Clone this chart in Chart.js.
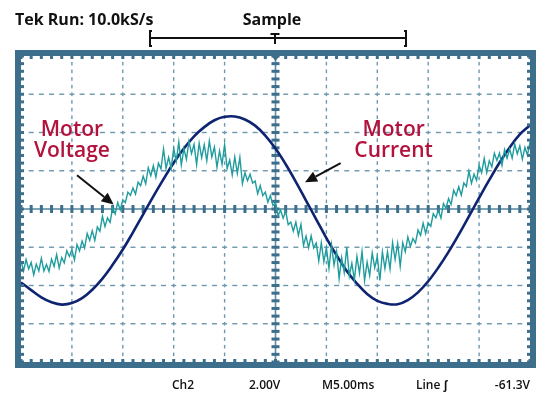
<!DOCTYPE html>
<html>
<head>
<meta charset="utf-8">
<script src="https://cdn.jsdelivr.net/npm/chart.js@4/dist/chart.umd.min.js"></script>
<style>
  html, body { margin: 0; padding: 0; background: #ffffff; }
  canvas { display: block; }
</style>
</head>
<body>
<canvas id="scope" width="536" height="398"></canvas>
<script>
// Screen graticule: 10 x 8 divisions, 5 ms per horizontal division
const timeDivs = 10;
const voltDivs = 8;
const msPerDiv = 5;

// Motor current trace (divisions), one sample per ms
const currentStepMs = 1;
const motorCurrent = [
  -1.92, -2.12, -2.31, -2.44, -2.50, -2.46, -2.33, -2.11, -1.82, -1.46,
  -1.06, -0.61, -0.14, 0.33, 0.78, 1.21, 1.58, 1.90, 2.14, 2.32,
  2.41, 2.42, 2.34, 2.18, 1.92, 1.58, 1.17, 0.71, 0.22, -0.27,
  -0.76, -1.21, -1.62, -1.95, -2.22, -2.40, -2.48, -2.49, -2.38, -2.18,
  -1.89, -1.53, -1.12, -0.67, -0.19, 0.29, 0.76, 1.21, 1.61, 1.95,
  2.19
];

// Motor voltage trace (divisions), one sample per 0.25 ms
const voltageStepMs = 0.25;
const motorVoltage = [
  -1.36, -1.62, -1.32, -1.57, -1.40, -1.72, -1.44, -1.62, -1.29, -1.62,
  -1.45, -1.63, -1.31, -1.50, -1.19, -1.54, -1.27, -1.41, -1.09, -1.24,
  -1.06, -1.33, -0.93, -1.10, -0.84, -1.02, -0.64, -0.82, -0.57, -0.82,
  -0.47, -0.58, -0.19, -0.46, -0.23, -0.35, 0.02, -0.13, 0.17, -0.02,
  0.24, 0.17, 0.44, 0.36, 0.55, 0.39, 0.70, 0.61, 0.86, 0.66,
  1.08, 0.87, 1.13, 0.83, 1.20, 1.05, 1.57, 1.06, 1.35, 1.06,
  1.58, 1.25, 1.75, 1.15, 1.58, 1.30, 1.77, 1.45, 1.69, 1.16,
  1.72, 1.34, 1.68, 1.26, 1.78, 1.36, 1.62, 1.09, 1.52, 1.17,
  1.68, 1.06, 1.28, 0.89, 1.36, 0.93, 1.35, 0.66, 0.95, 0.74,
  0.91, 0.68, 0.73, 0.40, 0.61, 0.35, 0.44, 0.18, 0.35, 0.09,
  0.16, -0.17, -0.03, -0.24, -0.06, -0.41, -0.34, -0.58, -0.34, -0.69,
  -0.40, -0.95, -0.71, -1.01, -0.70, -1.02, -0.89, -1.36, -0.88, -1.38,
  -1.01, -1.55, -0.93, -1.47, -1.11, -1.82, -1.27, -1.66, -1.00, -1.75,
  -1.42, -1.85, -1.24, -1.68, -1.11, -1.87, -1.39, -1.74, -1.15, -1.54,
  -1.24, -1.87, -1.12, -1.56, -1.12, -1.57, -0.88, -1.32, -0.90, -1.50,
  -0.88, -1.12, -0.73, -0.98, -0.77, -0.89, -0.55, -0.69, -0.37, -0.64,
  -0.36, -0.45, -0.12, -0.23, -0.03, -0.24, 0.14, 0.02, 0.27, 0.12,
  0.49, 0.35, 0.58, 0.36, 0.68, 0.59, 0.99, 0.67, 0.91, 0.75,
  1.14, 0.95, 1.32, 0.95, 1.26, 1.10, 1.46, 1.27, 1.46, 1.14,
  1.55, 1.33, 1.57, 1.33, 1.70, 1.44, 1.65, 1.30, 1.61, 1.41,
  1.75
];

// Header / readout texts
const headerLeft = 'Tek Run: 10.0kS/s';
const headerMode = 'Sample';
const readoutTexts = ['Ch2', '2.00V', 'M5.00ms', 'Line \u0283', '-61.3V'];
const readoutX = [172, 249, 322, 416, 530];

// Callouts: label lines, label anchor (ms, div), arrow tail and head (ms, div)
const voltageLabel = ['Motor', 'Voltage'];
const voltageLabelAt = [5.0, 1.92];
const voltageArrow = [[5.5, 0.88], [9.1, 0.12]];
const currentLabel = ['Motor', 'Current'];
const currentLabelAt = [36.6, 1.92];
const currentArrow = [[31.4, 1.20], [27.9, 0.70]];

const frameColor = '#3d6f8c';
const gridColor = '#6d98ae';
const axisColor = '#5f8ca5';
const labelRed = '#b3123d';
const font = '"Open Sans", "Liberation Sans", sans-serif';

const halfX = timeDivs * msPerDiv / 2;

const scopeGraticule = {
  id: 'scopeGraticule',
  beforeDatasetsDraw(chart) {
    const { ctx, chartArea: a, scales: { x, y } } = chart;
    ctx.save();
    // dashed major lines
    ctx.fillStyle = gridColor;
    for (let i = 1; i < timeDivs; i++) {
      if (i === timeDivs / 2) continue;
      const px = x.getPixelForValue(i * msPerDiv);
      for (let j = 0; j <= voltDivs * 5; j++) {
        const py = y.getPixelForValue(-voltDivs / 2 + j * 0.2);
        ctx.fillRect(px - 0.7, py - 1.8, 1.4, 3.6);
      }
    }
    for (let j = 1; j < voltDivs; j++) {
      if (j === voltDivs / 2) continue;
      const py = y.getPixelForValue(-voltDivs / 2 + j);
      for (let i = 0; i <= timeDivs * 5; i++) {
        const px = x.getPixelForValue(i * msPerDiv / 5);
        ctx.fillRect(px - 2.5, py - 0.7, 5, 1.4);
      }
    }
    // centre cross lines
    const cx = x.getPixelForValue(halfX);
    const cy = y.getPixelForValue(0);
    ctx.fillStyle = axisColor;
    ctx.fillRect(a.left, cy - 0.8, a.right - a.left, 1.6);
    ctx.fillRect(cx - 0.8, a.top, 1.6, a.bottom - a.top);
    ctx.fillStyle = frameColor;
    for (let i = 0; i <= timeDivs * 5; i++) {
      const px = x.getPixelForValue(i * msPerDiv / 5);
      ctx.fillRect(px - 1.5, cy - 4, 3, 8);
    }
    for (let j = 0; j <= voltDivs * 5; j++) {
      const py = y.getPixelForValue(-voltDivs / 2 + j * 0.2);
      ctx.fillRect(cx - 4, py - 1.5, 8, 3);
    }
    ctx.restore();
  },
  afterDatasetsDraw(chart) {
    const { ctx, chartArea: a, scales: { x, y } } = chart;
    ctx.save();
    // thick outer bezel
    ctx.fillStyle = frameColor;
    const t = 6;
    ctx.fillRect(a.left - t, a.top - t, a.right - a.left + 2 * t, t);
    ctx.fillRect(a.left - t, a.bottom, a.right - a.left + 2 * t, t);
    ctx.fillRect(a.left - t, a.top - t, t, a.bottom - a.top + 2 * t);
    ctx.fillRect(a.right, a.top - t, t, a.bottom - a.top + 2 * t);
    // minor ticks along the bezel
    for (let i = 0; i <= timeDivs * 5; i++) {
      const px = x.getPixelForValue(i * msPerDiv / 5);
      ctx.fillRect(px - 1.5, a.top, 3, 3);
      ctx.fillRect(px - 1.5, a.bottom - 3, 3, 3);
    }
    for (let j = 0; j <= voltDivs * 5; j++) {
      const py = y.getPixelForValue(-voltDivs / 2 + j * 0.2);
      ctx.fillRect(a.left, py - 1.5, 3, 3);
      ctx.fillRect(a.right - 3, py - 1.5, 3, 3);
    }
    // trigger position marker
    const cx = x.getPixelForValue(halfX);
    ctx.beginPath();
    ctx.moveTo(cx - 4, a.top);
    ctx.lineTo(cx + 4, a.top);
    ctx.lineTo(cx, a.top + 5);
    ctx.closePath();
    ctx.fill();

    // callout labels
    ctx.fillStyle = labelRed;
    ctx.font = '600 21px ' + font;
    ctx.textAlign = 'center';
    ctx.textBaseline = 'alphabetic';
    const drawLabel = (lines, at) => {
      const px = x.getPixelForValue(at[0]);
      const py = y.getPixelForValue(at[1]);
      lines.forEach((s, k) => ctx.fillText(s, px, py + k * 21));
    };
    drawLabel(voltageLabel, voltageLabelAt);
    drawLabel(currentLabel, currentLabelAt);

    // callout arrows
    const drawArrow = (seg) => {
      const x0 = x.getPixelForValue(seg[0][0]), y0 = y.getPixelForValue(seg[0][1]);
      const x1 = x.getPixelForValue(seg[1][0]), y1 = y.getPixelForValue(seg[1][1]);
      const ang = Math.atan2(y1 - y0, x1 - x0);
      const hl = 12, hw = 5.5;
      const bx = x1 - hl * Math.cos(ang), by = y1 - hl * Math.sin(ang);
      ctx.strokeStyle = '#111111';
      ctx.fillStyle = '#111111';
      ctx.lineWidth = 2;
      ctx.beginPath();
      ctx.moveTo(x0, y0);
      ctx.lineTo(bx, by);
      ctx.stroke();
      ctx.beginPath();
      ctx.moveTo(x1, y1);
      ctx.lineTo(bx + hw * Math.sin(ang), by - hw * Math.cos(ang));
      ctx.lineTo(bx - hw * Math.sin(ang), by + hw * Math.cos(ang));
      ctx.closePath();
      ctx.fill();
    };
    drawArrow(voltageArrow);
    drawArrow(currentArrow);
    ctx.restore();
  },
  afterDraw(chart) {
    const { ctx, scales: { x } } = chart;
    ctx.save();
    ctx.fillStyle = '#111111';
    ctx.textBaseline = 'alphabetic';
    // header
    ctx.font = '700 16px ' + font;
    ctx.textAlign = 'left';
    ctx.fillText(headerLeft, 15, 25);
    ctx.textAlign = 'center';
    ctx.fillText(headerMode, 272, 25);
    // record-length bracket
    const cx = x.getPixelForValue(halfX);
    ctx.strokeStyle = '#111111';
    ctx.lineWidth = 2;
    ctx.beginPath();
    ctx.moveTo(152, 31); ctx.lineTo(150, 31); ctx.lineTo(150, 46); ctx.lineTo(152, 46);
    ctx.moveTo(150, 38); ctx.lineTo(406, 38);
    ctx.moveTo(404, 31); ctx.lineTo(406, 31); ctx.lineTo(406, 46); ctx.lineTo(404, 46);
    ctx.moveTo(cx - 5, 34); ctx.lineTo(cx + 4, 34);
    ctx.moveTo(cx - 0.5, 34); ctx.lineTo(cx - 0.5, 44);
    ctx.stroke();
    // readout line
    ctx.font = '600 12px ' + font;
    readoutTexts.forEach((s, i) => {
      ctx.textAlign = i === readoutTexts.length - 1 ? 'right' : 'left';
      ctx.fillText(s, readoutX[i], 389);
    });
    ctx.restore();
  }
};

new Chart(document.getElementById('scope'), {
  type: 'line',
  data: {
    datasets: [
      {
        label: 'Motor Voltage',
        data: motorVoltage.map((v, i) => ({ x: i * voltageStepMs, y: v })),
        borderColor: '#1f9c9e',
        borderWidth: 1.4,
        pointRadius: 0,
        tension: 0
      },
      {
        label: 'Motor Current',
        data: motorCurrent.map((v, i) => ({ x: i * currentStepMs, y: v })),
        borderColor: '#0f2470',
        borderWidth: 2.6,
        pointRadius: 0,
        tension: 0.4
      }
    ]
  },
  options: {
    responsive: false,
    animation: false,
    devicePixelRatio: 1,
    layout: { padding: { left: 21, right: 6, top: 56, bottom: 36 } },
    scales: {
      x: { type: 'linear', min: 0, max: timeDivs * msPerDiv, display: false },
      y: { type: 'linear', min: -voltDivs / 2, max: voltDivs / 2, display: false }
    },
    plugins: { legend: { display: false }, tooltip: { enabled: false } }
  },
  plugins: [scopeGraticule]
});
</script>
</body>
</html>
